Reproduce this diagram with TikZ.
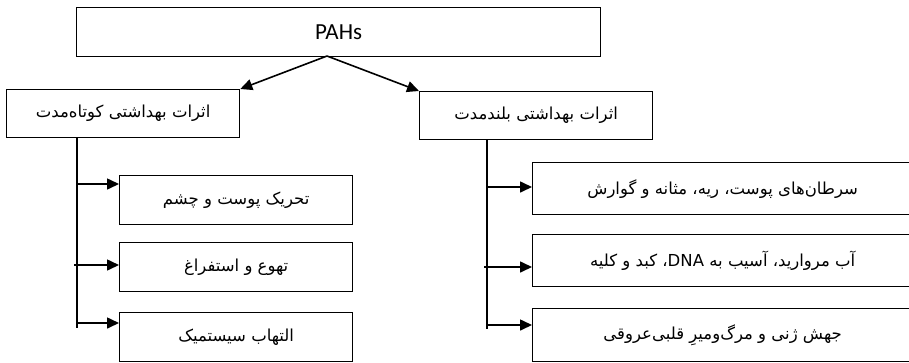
\documentclass[tikz,border=0pt]{standalone}
\usepackage{fontspec}
\usetikzlibrary{arrows.meta,calc}
\TeXXeTstate=1
\newfontfamily\fa[Script=Arabic]{DejaVu Sans}
\newfontfamily\lat{Carlito}
\tikzset{
  box/.style={draw, line width=1.3pt, rectangle, inner sep=0pt, anchor=north west, font=\fa\fontsize{16.5}{19}\selectfont},
  link/.style={line width=1.6pt},
  arr/.style={line width=1.6pt, -{Triangle[length=12pt,width=11pt]}}
}
\newcommand{\rtl}[1]{\beginR #1\endR}
\begin{document}
\begin{tikzpicture}[x=1pt,y=-1pt]
\useasboundingbox (0,0) rectangle (909,362);
\clip (0,0) rectangle (909,362);
% top
\node[box, minimum width=524pt, minimum height=49pt, font=\lat\fontsize{23}{26}\selectfont] (top) at (76,7) {PAHs};
% level 2
\node[box, minimum width=233pt, minimum height=48pt] (L) at (6,89) {\rtl{اثرات بهداشتی کوتاه‌مدت}};
\node[box, minimum width=233pt, minimum height=48pt] (R) at (419,91) {\rtl{اثرات بهداشتی بلندمدت}};
% left children
\node[box, minimum width=233pt, minimum height=49pt] (c1) at (119,175) {\rtl{تحریک پوست و چشم}};
\node[box, minimum width=233pt, minimum height=49pt] (c2) at (119,242) {\rtl{تهوع و استفراغ}};
\node[box, minimum width=233pt, minimum height=49pt] (c3) at (119,312) {\rtl{التهاب سیستمیک}};
% right children
\node[box, minimum width=380pt, minimum height=52pt] (d1) at (532,162) {\rtl{سرطان‌های پوست، ریه، مثانه و گوارش}};
\node[box, minimum width=380pt, minimum height=52pt] (d2) at (532,234) {\rtl{آب مروارید، آسیب به \beginL DNA\endL، کبد و کلیه}};
\node[box, minimum width=380pt, minimum height=53pt] (d3) at (532,308) {\rtl{جهش ژنی و مرگ‌ومیرِ قلبی‌عروقی}};
% connectors from top
\coordinate (split) at (327,56);
\draw[arr] (split) -- (L.north east);
\draw[arr] (split) -- (R.north west);
% left trunk
\coordinate (lt) at (77,137);
\coordinate (lb) at (77,328);
\coordinate (l1) at (77,184);
\coordinate (l2) at (74,265);
\coordinate (l3) at (77,323);
\draw[link] (lt) -- (lb);
\draw[arr] (l1) -- (l1 -| c1.west);
\draw[arr] (l2) -- (l2 -| c2.west);
\draw[arr] (l3) -- (l3 -| c3.west);
% right trunk
\coordinate (rt) at (487,139);
\coordinate (rb) at (487,329);
\coordinate (r1) at (487,187);
\coordinate (r2) at (484,267);
\coordinate (r3) at (487,325);
\draw[link] (rt) -- (rb);
\draw[arr] (r1) -- (r1 -| d1.west);
\draw[arr] (r2) -- (r2 -| d2.west);
\draw[arr] (r3) -- (r3 -| d3.west);
\end{tikzpicture}
\end{document}
